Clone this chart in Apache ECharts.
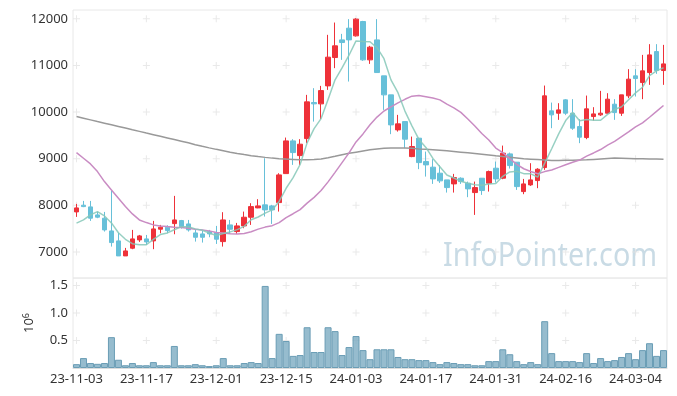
<!DOCTYPE html>
<html><head><meta charset="utf-8">
<script src="https://cdn.jsdelivr.net/npm/echarts@6/dist/echarts.min.js"></script>
<style>html,body{margin:0;padding:0;background:#fff}#c{width:677px;height:396px}</style>
</head><body><div id="c"></div>
<script>
const dates = [
'23-11-03','23-11-06','23-11-07','23-11-08','23-11-09','23-11-10','23-11-13','23-11-14','23-11-15','23-11-16',
'23-11-17','23-11-20','23-11-21','23-11-22','23-11-23','23-11-24','23-11-27','23-11-28','23-11-29','23-11-30',
'23-12-01','23-12-04','23-12-05','23-12-06','23-12-07','23-12-08','23-12-11','23-12-12','23-12-13','23-12-14',
'23-12-15','23-12-18','23-12-19','23-12-20','23-12-21','23-12-22','23-12-26','23-12-27','23-12-28','24-01-02',
'24-01-03','24-01-04','24-01-05','24-01-08','24-01-09','24-01-10','24-01-11','24-01-12','24-01-15','24-01-16',
'24-01-17','24-01-18','24-01-19','24-01-22','24-01-23','24-01-24','24-01-25','24-01-26','24-01-29','24-01-30',
'24-01-31','24-02-01','24-02-02','24-02-05','24-02-06','24-02-07','24-02-08','24-02-13','24-02-14','24-02-15',
'24-02-16','24-02-19','24-02-20','24-02-21','24-02-22','24-02-23','24-02-26','24-02-27','24-02-28','24-02-29',
'24-03-04','24-03-05','24-03-06','24-03-07','24-03-08'];
const opens = [
7858,8002,7966,7794,7723,7450,7236,6914,7079,7257,
7279,7236,7487,7530,7607,7672,7600,7407,7386,7436,
7414,7221,7579,7436,7558,7744,7944,8009,7987,8058,
8680,9382,9066,9431,10204,10176,10562,11170,11549,11800,
11635,11943,11120,11549,10777,10369,9618,9796,9045,9440,
8938,8818,8689,8545,8459,8581,8474,8273,8581,8474,
8796,8581,9103,8925,8294,8438,8530,8809,10026,9976,
10262,9976,9689,9453,9904,9940,9976,10169,9976,10348,
10777,10633,10848,11298,10891];
const closes = [
7944,7972,7723,7745,7472,7200,6914,7021,7279,7343,
7214,7493,7530,7457,7686,7543,7472,7314,7314,7386,
7272,7686,7486,7558,7744,7972,7987,7901,7901,8652,
9382,9131,9311,10219,10176,10461,11178,11421,11492,11549,
11994,11120,11393,10848,10369,9725,9747,9418,9260,8916,
8867,8566,8524,8380,8594,8509,8352,8380,8316,8723,
8566,9118,8852,8401,8459,8545,8774,10348,9940,10047,
9976,9654,9461,10069,9961,9976,10277,9989,10369,10706,
10719,10884,11227,10891,11034];
const lows = [
7751,7960,7665,7723,7436,7114,6914,6914,7058,7214,
7150,7058,7400,7400,7379,7500,7436,7221,7200,7314,
7171,7114,7386,7386,7508,7579,7937,7758,7600,7865,
8680,8867,8867,9333,9796,9848,10476,10942,11120,10655,
11620,11100,11034,10848,10047,9526,9581,9225,9032,8775,
8616,8459,8480,8273,8273,8459,8174,7794,8223,8294,
8487,8560,8788,8330,8238,8416,8367,8760,9654,9833,
9940,9618,9333,9418,9818,9918,9961,9833,9918,10298,
10333,10277,10584,10820,10584];
const highs = [
8030,8094,8094,7858,7858,8330,7407,7086,7472,7364,
7364,7665,7579,7572,8202,7686,7686,7472,7450,7472,
7558,7852,7686,7622,7865,8045,8131,9010,8009,8688,
9453,9418,9418,10369,10513,10562,11657,11921,11678,11994,
12015,11957,11421,11994,10777,10369,9940,9796,9474,9440,
9152,8990,8860,8545,8674,8600,8509,8509,8581,8745,
8938,9281,9131,8925,8566,8903,8796,10569,10204,10190,
10277,10277,9848,10354,10105,10455,10405,10277,10369,10921,
10921,11227,11457,11457,11442];
// volume, millions of shares
const volumes = [
0.07,0.18,0.09,0.076,0.09,0.56,0.15,0.05,0.09,0.05,
0.05,0.107,0.05,0.05,0.40,0.05,0.05,0.07,0.05,0.035,
0.05,0.18,0.05,0.05,0.09,0.107,0.09,1.49,0.18,0.62,
0.49,0.22,0.235,0.74,0.29,0.29,0.74,0.67,0.235,0.38,
0.58,0.325,0.16,0.34,0.34,0.34,0.2,0.16,0.16,0.143,
0.143,0.107,0.07,0.107,0.09,0.07,0.07,0.05,0.05,0.125,
0.125,0.34,0.25,0.125,0.07,0.107,0.07,0.85,0.27,0.125,
0.125,0.125,0.107,0.27,0.09,0.18,0.125,0.143,0.2,0.27,
0.16,0.325,0.45,0.22,0.325];
// moving-average values before a full window is available
const ma5Head = [7616,7686,7794,7865];
const ma20Head = [9131,9010,8888,8723,8509,8330,8152,7972,7815,7686,7629,7579,7558,7543,7530,7522,7508,7487,7472];
const ma120 = [
9903,9868,9833,9797,9762,9727,9692,9657,9621,9586,
9550,9515,9480,9445,9410,9375,9340,9300,9265,9232,
9200,9170,9140,9112,9088,9065,9045,9028,9012,9000,
8992,8985,8978,8975,8980,8995,9020,9050,9085,9115,
9140,9165,9190,9210,9222,9228,9230,9228,9222,9210,
9200,9190,9180,9168,9155,9140,9125,9110,9095,9080,
9062,9045,9030,9015,9000,8990,8980,8970,8962,8962,
8965,8968,8972,8975,8985,8995,9005,9012,9010,9005,
9000,8998,8995,8992,8988];
const priceTicks = [7000,8000,9000,10000,11000,12000];
const volTicks = [0.5,1.0,1.5];

function movingAvg(n, head){
  return closes.map((c,i)=>{
    if(i < n-1) return head[i];
    let s=0; for(let k=i-n+1;k<=i;k++) s+=closes[k];
    return Math.round(s/n);
  });
}
const candleData = dates.map((d,i)=>[opens[i],closes[i],lows[i],highs[i]]);
const labelIdx = dates.map((d,i)=>i).filter(i=>i%10===0);
const crossMain=[], crossVol=[];
labelIdx.forEach(i=>{ priceTicks.forEach(v=>crossMain.push([i,v])); volTicks.forEach(v=>crossVol.push([i,v])); });
const plus = 'path://M3,0h1v3h3v1h-3v3h-1v-3h-3v-1h3z';
const FONT = 'Noto Sans';

const chart = echarts.init(document.getElementById('c'));
chart.setOption({
  animation:false,
  textStyle:{fontFamily:FONT},
  grid:[
    {left:73,right:10,top:10,height:268,show:true,borderColor:'#e8e8e8',borderWidth:1},
    {left:73,right:10,top:278,height:90,show:true,borderColor:'#e8e8e8',borderWidth:1}
  ],
  xAxis:[
    {type:'category',data:dates,gridIndex:0,boundaryGap:true,axisLine:{show:false},axisTick:{show:false},axisLabel:{show:false},splitLine:{show:false}},
    {type:'category',data:dates,gridIndex:1,boundaryGap:true,axisLine:{show:true,lineStyle:{color:'#dcdcdc'}},axisTick:{show:false},
     axisLabel:{interval:9,color:'#333',fontSize:13,margin:5,fontFamily:FONT},splitLine:{show:false}}
  ],
  yAxis:[
    {type:'value',gridIndex:0,min:6440,max:12190,splitNumber:5,axisLine:{show:false},axisTick:{show:false},splitLine:{show:false},
     axisLabel:{fontSize:13,color:'#333',margin:5,fontFamily:FONT,formatter:v=>(v%1000===0?String(v):'')}},
    {type:'value',gridIndex:1,min:0,max:1.634,interval:0.5,axisLine:{show:false},axisTick:{show:false},splitLine:{show:false},
     axisLabel:{fontSize:13,color:'#333',margin:5,fontFamily:FONT,formatter:v=>(volTicks.indexOf(v)>=0?v.toFixed(1):'')},
     name:'10{sup|6}',nameLocation:'middle',nameRotate:90,nameGap:36,
     nameTextStyle:{fontSize:13,color:'#333',fontFamily:FONT,rich:{sup:{fontSize:9,color:'#333',fontFamily:FONT,verticalAlign:'top',padding:[0,0,6,0]}}}}
  ],
  graphic:[{type:'text',x:443,y:240,scaleX:0.87,z:0,silent:true,
    style:{text:'InfoPointer.com',font:'33px "Noto Sans"',fill:'#c9dbe5'}}],
  series:[
    {type:'scatter',xAxisIndex:0,yAxisIndex:0,data:crossMain,symbol:plus,symbolSize:7,silent:true,z:0,itemStyle:{color:'#e4e4e4'}},
    {type:'scatter',xAxisIndex:1,yAxisIndex:1,data:crossVol,symbol:plus,symbolSize:7,silent:true,z:0,itemStyle:{color:'#e4e4e4'}},
    {type:'candlestick',xAxisIndex:0,yAxisIndex:0,data:candleData,barWidth:5,z:3,
     itemStyle:{color:'#ee3139',color0:'#67c0d9',borderColor:'#ee3139',borderColor0:'#67c0d9',borderWidth:1}},
    {type:'line',xAxisIndex:0,yAxisIndex:0,data:ma120,showSymbol:false,z:4,lineStyle:{color:'#999999',width:1.5}},
    {type:'line',xAxisIndex:0,yAxisIndex:0,data:movingAvg(20,ma20Head),showSymbol:false,z:4,lineStyle:{color:'#c98cc3',width:1.5}},
    {type:'line',xAxisIndex:0,yAxisIndex:0,data:movingAvg(5,ma5Head),showSymbol:false,z:4,lineStyle:{color:'#86c8b8',width:1.5,opacity:0.85}},
    {type:'bar',xAxisIndex:1,yAxisIndex:1,data:volumes,barWidth:'100%',z:3,
     itemStyle:{color:'rgba(115,165,190,0.75)',borderColor:'#6a9db5',borderWidth:1}}
  ]
});
</script></body></html>
